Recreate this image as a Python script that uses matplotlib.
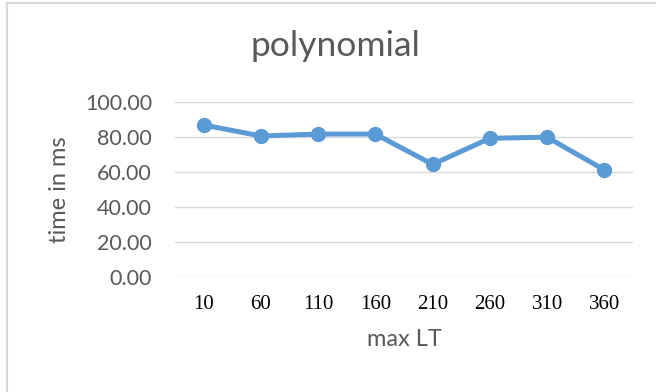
import matplotlib
matplotlib.use("Agg")
import matplotlib.pyplot as plt
from matplotlib.patches import Rectangle

# timing for the polynomial run, one value per max LT setting
max_lt = ["10", "60", "110", "160", "210", "260", "310", "360"]
time_ms = [86.7, 80.4, 81.5, 81.5, 64.2, 79.1, 79.7, 61.0]
y_ticks = [0, 20, 40, 60, 80, 100]

GREY_TXT = "#595959"
BLUE = "#5B9BD5"

fig = plt.figure(figsize=(6.56, 3.92), dpi=100)

# light chart frame, only the left and top edges fall inside the image
fig.patches.append(Rectangle((6.5 / 656, -0.1), 1.2, 1.1 - 2.5 / 392,
                             transform=fig.transFigure, fill=False,
                             edgecolor="#D9D9D9", lw=1.5))

ax = fig.add_axes([175 / 656, 1 - 276.7 / 392, 458 / 656, 175 / 392])
x = range(len(max_lt))
ax.plot(x, time_ms, color=BLUE, lw=3.6, marker="o", ms=10,
        solid_capstyle="round", solid_joinstyle="round", zorder=3)

ax.set_xlim(-0.5, len(max_lt) - 0.5)
ax.set_ylim(0, 100)
ax.set_yticks(y_ticks)
ax.set_yticklabels([f"{v:.2f}" for v in y_ticks], fontfamily="Lato",
                   fontsize=15.5, color=GREY_TXT)
ax.set_xticks(list(x))
ax.set_xticklabels(max_lt, fontfamily="Liberation Serif", fontsize=15,
                   color="black")
ax.tick_params(axis="y", length=0, pad=16.5)
ax.tick_params(axis="x", length=0, pad=13)
ax.grid(axis="y", color="#D9D9D9", lw=1)
ax.set_axisbelow(True)
for s in ax.spines.values():
    s.set_visible(False)

ax.set_xlabel("max LT", fontfamily="Lato", fontsize=17, color=GREY_TXT,
              labelpad=11)
ax.set_ylabel("time in ms", fontfamily="Lato", fontsize=17, color=GREY_TXT,
              labelpad=11)
fig.text(335 / 656, 1 - 46 / 392, "polynomial", fontfamily="Lato",
         fontsize=25.5, color=GREY_TXT, ha="center", va="center")

fig.savefig("out.png", dpi=100)
